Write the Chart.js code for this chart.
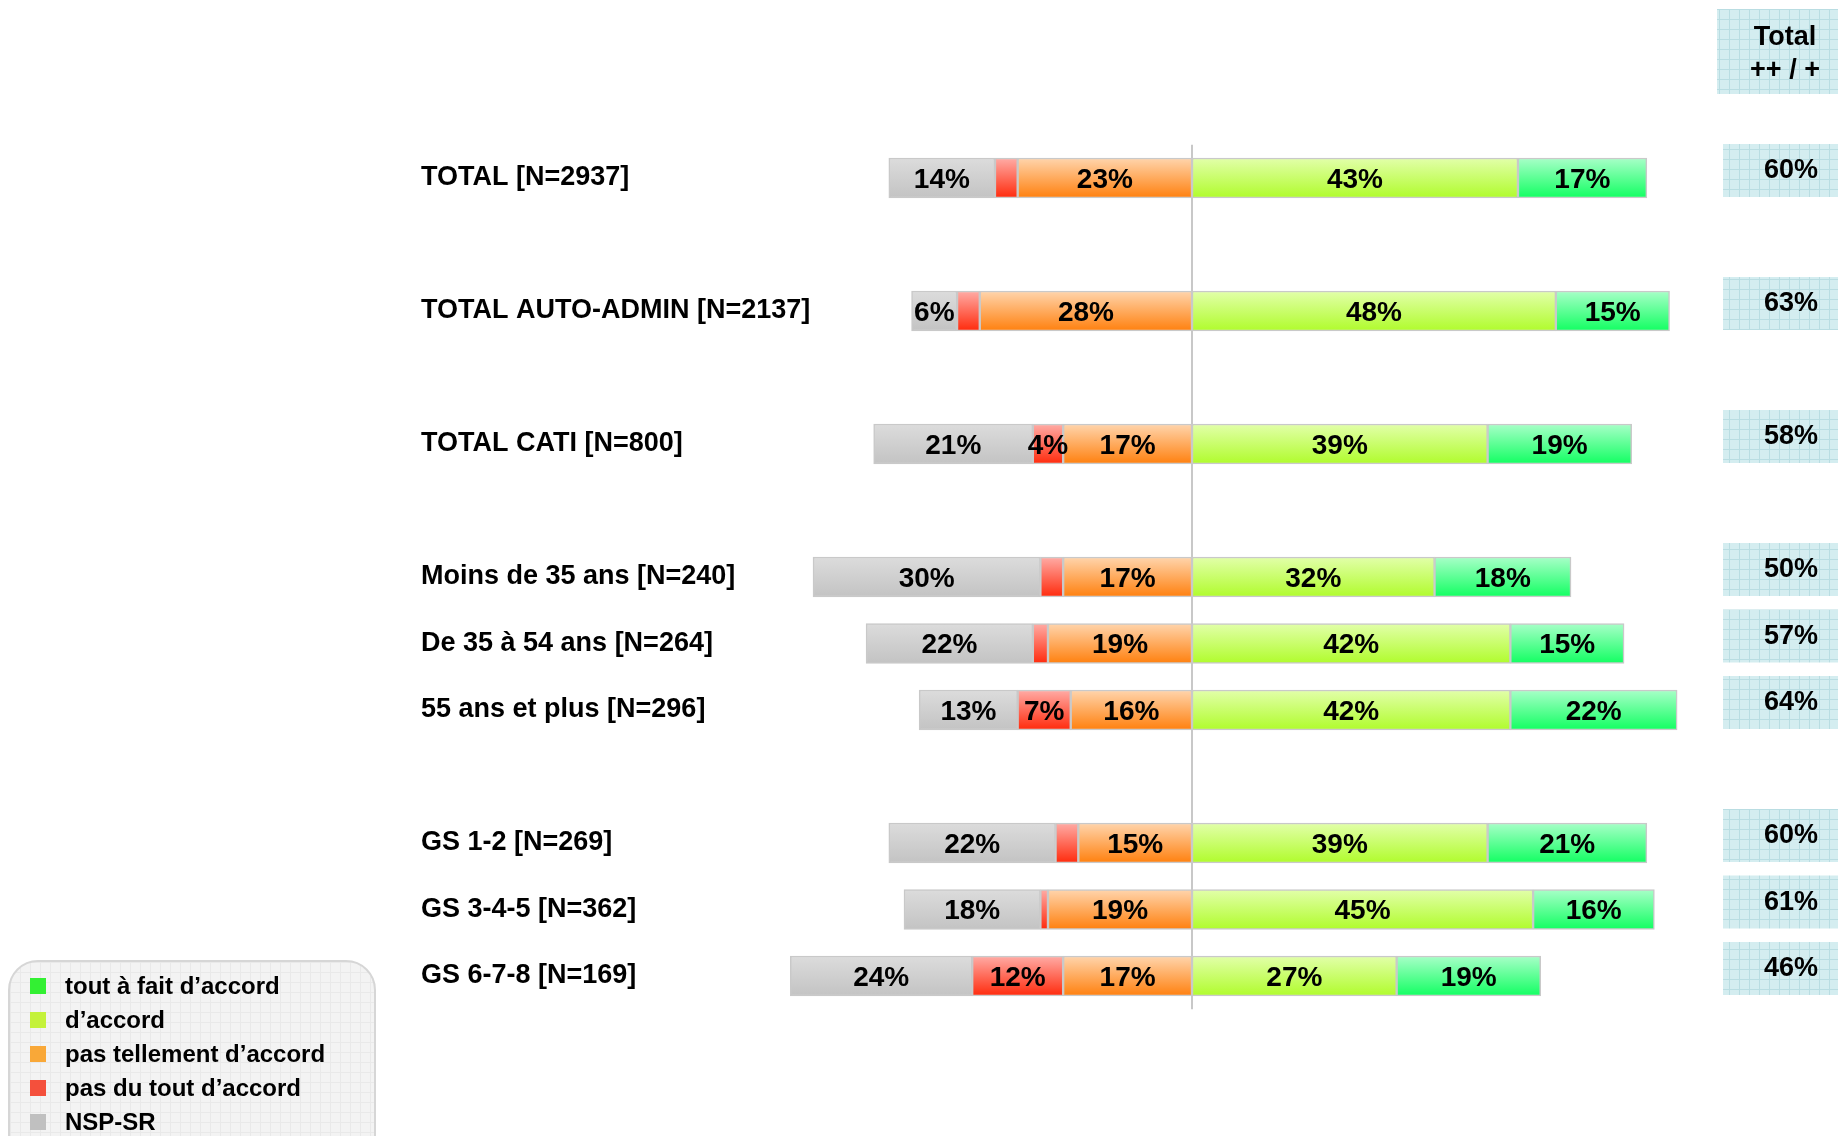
<!DOCTYPE html>
<html lang="fr">
<head>
<meta charset="utf-8">
<title>Accord par segment</title>
<script src="https://cdn.jsdelivr.net/npm/chart.js@4.4.1/dist/chart.umd.min.js"></script>
<style>
  html, body { margin: 0; padding: 0; background: #fff; overflow: hidden; }
  #cadre { position: relative; width: 1838px; height: 1136px; }
  #cadre canvas { position: absolute; left: 0; top: 0; }
  #legende {
    position: absolute; left: 8px; top: 960px; width: 368px; height: 220px;
    box-sizing: border-box; padding-top: 7px;
    border: 2px solid #d6d6d6; border-radius: 30px;
    background-color: #f3f3f3;
    background-image: linear-gradient(#e9e9e9 1px, transparent 1px), linear-gradient(90deg, #e9e9e9 1px, transparent 1px);
    background-size: 10px 10px;
    font: bold 24px "Liberation Sans", Arial, sans-serif; color: #000;
  }
  .item { display: flex; align-items: center; height: 34px; }
  .carre { width: 16px; height: 16px; margin-left: 20px; margin-right: 19px; }
</style>
</head>
<body>
<div id="cadre">
  <canvas id="grafica"></canvas>
  <div id="legende"></div>
</div>
<script>
// Catégories (de haut en bas)
const categories = [
  "TOTAL [N=2937]",
  "TOTAL AUTO-ADMIN [N=2137]",
  "TOTAL CATI [N=800]",
  "Moins de 35 ans [N=240]",
  "De 35 à 54 ans [N=264]",
  "55 ans et plus [N=296]",
  "GS 1-2 [N=269]",
  "GS 3-4-5 [N=362]",
  "GS 6-7-8 [N=169]"
];

// Valeurs en %
const toutAFait    = [17, 15, 19, 18, 15, 22, 21, 16, 19];
const dAccord      = [43, 48, 39, 32, 42, 42, 39, 45, 27];
const pasTellement = [23, 28, 17, 17, 19, 16, 15, 19, 17];
const pasDuTout    = [3, 3, 4, 3, 2, 7, 3, 1, 12];
const nspSr        = [14, 6, 21, 30, 22, 13, 22, 18, 24];
const totalPlus    = [60, 63, 58, 50, 57, 64, 60, 61, 46];

// une ligne vide est insérée après ces catégories
const blancApres = [0, 1, 2, 5];

const lignes = [];
const rang = [];
categories.forEach((c, i) => {
  rang.push(lignes.length);
  lignes.push(c);
  if (blancApres.includes(i)) lignes.push("");
});
const etaler = (valeurs, signe) => {
  const out = lignes.map(() => null);
  valeurs.forEach((v, i) => { out[rang[i]] = signe * v; });
  return out;
};

// ordre d'empilement : les négatifs partent du centre vers la gauche
const series = [
  { label: "pas tellement d’accord", data: etaler(pasTellement, -1), haut: "#ffd5ad", bas: "#ff800e", legende: "#f9a838" },
  { label: "pas du tout d’accord",   data: etaler(pasDuTout, -1),    haut: "#ffaca6", bas: "#ff2a0c", legende: "#f4503c" },
  { label: "NSP-SR",                 data: etaler(nspSr, -1),        haut: "#dcdcdc", bas: "#c3c3c3", legende: "#c0c0c0" },
  { label: "d’accord",               data: etaler(dAccord, 1),       haut: "#e2ffaa", bas: "#b0fc2c", legende: "#c4f23a" },
  { label: "tout à fait d’accord",   data: etaler(toutAFait, 1),     haut: "#a8ffc8", bas: "#12ff62", legende: "#33f033" }
];

// légende (ordre de l'original)
const ordreLegende = [4, 3, 0, 1, 2];
document.getElementById("legende").innerHTML = ordreLegende.map(i =>
  `<div class="item"><span class="carre" style="background:${series[i].legende}"></span>${series[i].label}</div>`
).join("");

const POLICE = '"Liberation Sans", Arial, sans-serif';

function grille() {
  const c = document.createElement("canvas");
  c.width = 10; c.height = 10;
  const g = c.getContext("2d");
  g.fillStyle = "#d4edf0";
  g.fillRect(0, 0, 10, 10);
  g.fillStyle = "#b9dde2";
  g.fillRect(9, 0, 1, 10);
  g.fillRect(0, 9, 10, 1);
  return c;
}

// ligne verticale du centre
const ligneCentre = {
  id: "ligneCentre",
  beforeDatasetsDraw(chart) {
    const { ctx, chartArea, scales } = chart;
    const x = scales.x.getPixelForValue(0);
    ctx.save();
    ctx.strokeStyle = "#c8c8c8";
    ctx.lineWidth = 2;
    ctx.beginPath();
    ctx.moveTo(x, chartArea.top);
    ctx.lineTo(x, chartArea.bottom);
    ctx.stroke();
    ctx.restore();
  }
};

// pourcentages dans les barres
const etiquettes = {
  id: "etiquettes",
  afterDatasetsDraw(chart) {
    const ctx = chart.ctx;
    ctx.save();
    ctx.font = "bold 28px " + POLICE;
    ctx.fillStyle = "#000";
    ctx.textAlign = "center";
    ctx.textBaseline = "middle";
    chart.data.datasets.forEach((ds, i) => {
      chart.getDatasetMeta(i).data.forEach((bar, j) => {
        const v = ds.data[j];
        if (v == null || Math.abs(v) < 4) return;
        const { x, y, base } = bar.getProps(["x", "y", "base"], true);
        ctx.fillText(Math.abs(v) + "%", (x + base) / 2, y + 2);
      });
    });
    ctx.restore();
  }
};

// colonne Total ++ / +
const colonneTotal = {
  id: "colonneTotal",
  afterDraw(chart) {
    const ctx = chart.ctx;
    const motif = ctx.createPattern(grille(), "repeat");
    ctx.save();
    ctx.fillStyle = motif;
    ctx.fillRect(1717, 9, 140, 85);
    ctx.fillStyle = "#000";
    ctx.textAlign = "center";
    ctx.textBaseline = "middle";
    ctx.font = "bold 27px " + POLICE;
    ctx.fillText("Total", 1785, 38);
    ctx.fillText("++ / +", 1785, 71);
    totalPlus.forEach((v, i) => {
      const y = chart.scales.y.getPixelForValue(rang[i]) - 8;
      ctx.fillStyle = motif;
      ctx.fillRect(1723, y - 26, 130, 53);
      ctx.fillStyle = "#000";
      ctx.fillText(v + "%", 1791, y + 1);
    });
    ctx.restore();
  }
};

new Chart(document.getElementById("grafica"), {
  type: "bar",
  data: {
    labels: lignes,
    datasets: series.map(s => ({
      label: s.label,
      data: s.data,
      borderColor: "#c9c9c9",
      borderWidth: 1.5,
      borderSkipped: false,
      barThickness: 40,
      backgroundColor: (c) => {
        const ch = c.chart;
        if (!ch.chartArea || c.type !== "data") return s.bas;
        const y = ch.scales.y.getPixelForValue(c.dataIndex);
        const g = ch.ctx.createLinearGradient(0, y - 20, 0, y + 20);
        g.addColorStop(0, s.haut);
        g.addColorStop(1, s.bas);
        return g;
      }
    }))
  },
  options: {
    indexAxis: "y",
    responsive: true,
    maintainAspectRatio: false,
    animation: false,
    layout: { padding: { left: 421, right: 115.4, top: 144.75, bottom: 126.75 } },
    plugins: {
      legend: { display: false },
      tooltip: { enabled: false }
    },
    scales: {
      x: { stacked: true, min: -101.72, max: 70, display: false },
      y: {
        stacked: true,
        grid: { display: false },
        border: { display: false },
        afterFit: (scale) => { scale.width = 0; },
        ticks: {
          autoSkip: false,
          mirror: true,
          padding: 0,
          color: "#000",
          font: { family: POLICE, weight: "bold", size: 27 }
        }
      }
    }
  },
  plugins: [ligneCentre, etiquettes, colonneTotal]
});
</script>
</body>
</html>
